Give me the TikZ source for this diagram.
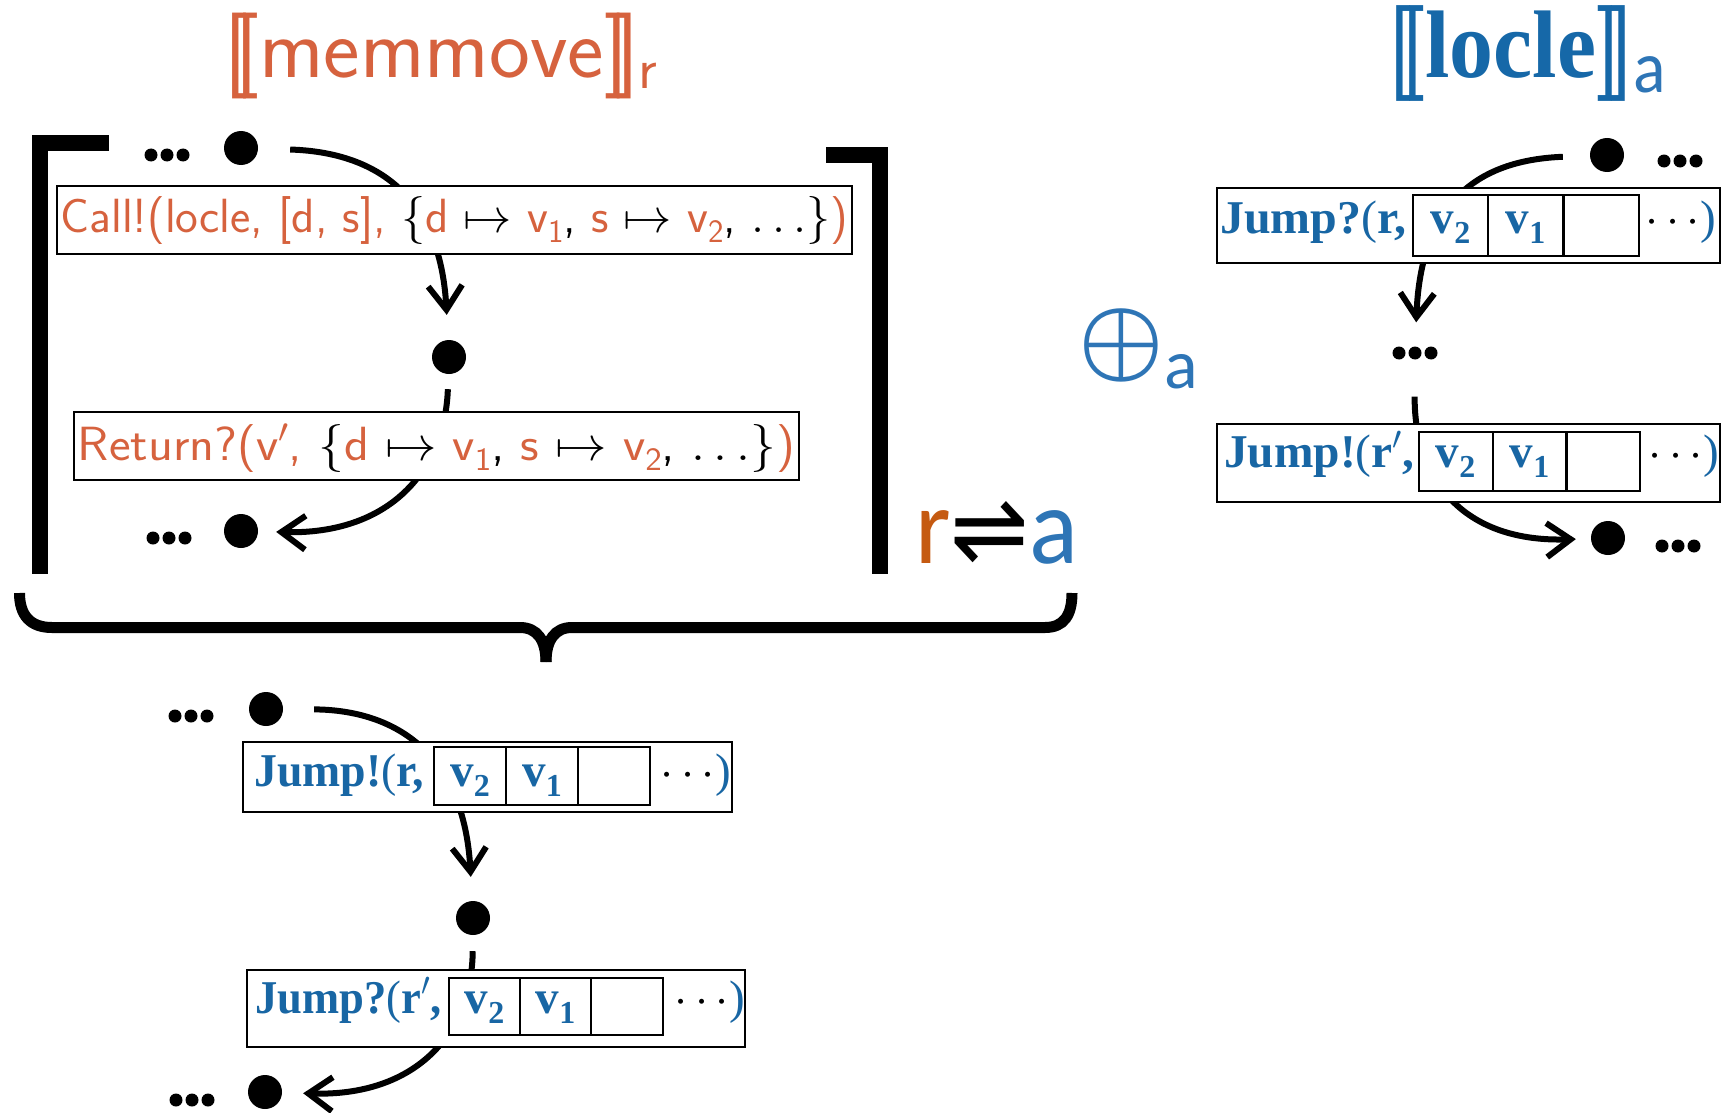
\RequirePackage{fix-cm}
\documentclass[tikz,border=0pt]{standalone}
\usepackage{fontspec}
\setmainfont{Liberation Serif}
\newfontfamily\dv{DejaVu Sans}
\newfontfamily\carl{Carlito}
\usetikzlibrary{arrows.meta}
\pgfdeclarelayer{bg}\pgfsetlayers{bg,main}
\definecolor{orT}{RGB}{214,98,62}
\definecolor{blJ}{RGB}{24,102,164}
\definecolor{blL}{RGB}{22,104,168}
\definecolor{blA}{RGB}{46,117,182}
\definecolor{rO}{RGB}{197,90,17}
\newcommand\sbs[1]{\raisebox{-.22em}{\scalebox{0.68}{#1}}}
\newcommand\oc[1]{\textcolor{orT}{#1}}
\newcommand\jdots{\hspace{4pt}{\color{black}$\cdots$}\textcolor{blJ}{\mdseries)}}
\tikzset{
  dot/.style={circle, fill=black, minimum size=34pt, inner sep=0pt},
  ell/.style={minimum width=46pt, minimum height=13pt, inner sep=0pt,
    path picture={\foreach \k in {-16,0,16} \fill ([xshift=\k pt]path picture bounding box.center) circle (6.5pt);}},
  conn/.style={line width=6pt, -{Straight Barb[length=24pt,width=34pt]}},
  obox/.style={draw, line width=2pt, fill=white, inner sep=0pt, font=\sffamily\fontsize{48}{50}\selectfont},
  jbox/.style={draw, line width=2pt, fill=white, inner sep=0pt},
  cell/.style={draw, line width=2pt, inner sep=0pt, anchor=base, text=blJ, font=\bfseries\fontsize{47}{50}\selectfont},
  jt/.style={anchor=base west, inner sep=0pt, text=blJ, font=\bfseries\fontsize{47}{50}\selectfont},
  jd/.style={anchor=base west, inner sep=0pt, font=\fontsize{47}{50}\selectfont},
  brk/.style={line width=16pt, line join=miter, line cap=butt},
  brc/.style={line width=11pt, line cap=butt}
}
\begin{document}
\begin{tikzpicture}[x=1pt,y=1pt]
\useasboundingbox (0,0) rectangle (1721,-1113);
% titles
\node[anchor=base, inner sep=0pt, text=orT, font=\sffamily\fontsize{86}{86}\selectfont] (tmem) at (441,-78)
  {\resizebox{433pt}{\height}{[\kern-.148em[memmove]\kern-.148em]\raisebox{-10pt}{\fontsize{58}{58}\selectfont r}}};
\node[anchor=base, inner sep=0pt, text=blL] (tloc) at (1527,-78)
  {\resizebox{278pt}{\height}{{\sffamily\fontsize{96}{96}\selectfont[\kern-.12em[}{\fontsize{96}{96}\selectfont\bfseries locle}{\sffamily\fontsize{96}{96}\selectfont]\kern-.12em]}\raisebox{-14pt}{\carl\fontsize{74}{74}\selectfont\color{blA}a}}};
% left group (memmove)
\node[ell] (E1) at (167,-155) {};
\node[dot] (D1) at (241,-148) {};
\node[obox, minimum width=795pt, text height=46pt, text depth=22pt] (call) at (454.5,-220)
  {\resizebox{788pt}{\height}{\oc{Call!(locle, [d, s], }$\{$\oc{d} $\mapsto$ \oc{v\sbs{1}}, \oc{s} $\mapsto$ \oc{v\sbs{2}}, $\ldots\}$\oc{)}}};
\node[dot] (D2) at (449,-357) {};
\node[obox, minimum width=725pt, text height=48pt, text depth=20pt] (ret) at (436.5,-446)
  {\resizebox{717pt}{\height}{\oc{Return?(v$'$, }$\{$\oc{d} $\mapsto$ \oc{v\sbs{1}}, \oc{s} $\mapsto$ \oc{v\sbs{2}}, $\ldots\}$\oc{)}}};
\node[ell] (E2) at (169,-538) {};
\node[dot] (D3) at (241,-531) {};
% brackets and brace
\draw[brk] (109,-143) -- (40,-143) -- (40,-574);
\draw[brk] (826,-155) -- (880,-155) -- (880,-574);
\draw[brc] (19.5,-593) .. controls (19.5,-615) and (30,-627.5) .. (52,-627.5) -- (520,-627.5)
  .. controls (537,-627.5) and (546,-640) .. (546,-662);
\draw[brc] (1072,-593) .. controls (1072,-615) and (1064,-627.5) .. (1045,-627.5) -- (572,-627.5)
  .. controls (555,-627.5) and (546,-640) .. (546,-662);
% r <=> a and oplus
\node[anchor=base west, inner sep=0pt] (rla) at (915,-563)
  {\resizebox{163pt}{\height}{\carl\fontsize{109}{109}\selectfont\textcolor{rO}{r}{\dv\fontsize{100}{100}\selectfont ⇌}\textcolor{blA}{a}}};
\node[anchor=base west, inner sep=0pt, text=blA] (opl) at (1078,-369)
  {{\fontsize{96}{96}\selectfont\boldmath$\oplus$}\raisebox{-19pt}{\carl\fontsize{70}{70}\selectfont a}};
% right group (locle)
\node[dot] (RD1) at (1607,-155) {};
\node[ell] (ER1) at (1680,-161) {};
\node[jbox, minimum width=503pt, minimum height=75pt] (R1) at (1468.5,-225.5) {};
\node[jt] (R1t) at (1220,-233) {\resizebox{186pt}{\height}{Jump?\mdseries(\bfseries r,}};
\node[cell, minimum width=75pt, text height=38pt, text depth=23pt] (R1a) at (1450.5,-233) {v\sbs{2}};
\node[cell, minimum width=75pt, text height=38pt, text depth=23pt] (R1b) at (1525.5,-233) {v\sbs{1}};
\node[cell, minimum width=75pt, text height=38pt, text depth=23pt] (R1c) at (1601,-233) {};
\node[jd] (R1d) at (1641,-233) {\jdots};
\node[ell] (ERm) at (1415,-353) {};
\node[jbox, minimum width=503pt, minimum height=78pt] (R2) at (1468.5,-463) {};
\node[jt] (R2t) at (1224,-467) {\resizebox{190pt}{\height}{Jump!\mdseries(\bfseries r$'$,}};
\node[cell, minimum width=74pt, text height=35pt, text depth=24pt] (R2a) at (1455.5,-467) {v\sbs{2}};
\node[cell, minimum width=74pt, text height=35pt, text depth=24pt] (R2b) at (1529.5,-467) {v\sbs{1}};
\node[cell, minimum width=74pt, text height=35pt, text depth=24pt] (R2c) at (1603,-467) {};
\node[jd] (R2d) at (1644,-467) {\jdots};
\node[dot] (RD3) at (1608,-538) {};
\node[ell] (ER3) at (1678,-546) {};
% bottom group
\node[ell] (E3) at (191,-716) {};
\node[dot] (BD1) at (266,-709) {};
\node[jbox, minimum width=489pt, minimum height=70pt] (B1) at (487.5,-777) {};
\node[jt] (B1t) at (254,-786) {\resizebox{170pt}{\height}{Jump!\mdseries(\bfseries r,}};
\node[cell, minimum width=72pt, text height=39pt, text depth=19pt] (B1a) at (470,-786) {v\sbs{2}};
\node[cell, minimum width=72pt, text height=39pt, text depth=19pt] (B1b) at (542,-786) {v\sbs{1}};
\node[cell, minimum width=72pt, text height=39pt, text depth=19pt] (B1c) at (614,-786) {};
\node[jd] (B1d) at (656,-786) {\jdots};
\node[dot] (BD2) at (473,-918) {};
\node[jbox, minimum width=498pt, minimum height=77pt] (B2) at (496,-1008) {};
\node[jt] (B2t) at (255,-1013) {\resizebox{186pt}{\height}{Jump?\mdseries(\bfseries r$'$,}};
\node[cell, minimum width=71.5pt, text height=35pt, text depth=22pt] (B2a) at (484.5,-1013) {v\sbs{2}};
\node[cell, minimum width=71.5pt, text height=35pt, text depth=22pt] (B2b) at (555.5,-1013) {v\sbs{1}};
\node[cell, minimum width=71.5pt, text height=35pt, text depth=22pt] (B2c) at (627,-1013) {};
\node[jd] (B2d) at (670,-1013) {\jdots};
\node[ell] (E4) at (192,-1100) {};
\node[dot] (BD3) at (265,-1092) {};
% connectors
\begin{pgfonlayer}{bg}
\draw[conn, shorten <=32pt, shorten >=25pt] (D1) .. controls (370,-152) and (440,-190) .. (D2);
\draw[conn, shorten <=15pt, shorten >=18pt] (D2) .. controls (445,-470) and (390,-535) .. (D3);
\draw[conn, shorten <=31pt, shorten >=24pt] (BD1) .. controls (394,-710) and (464,-752) .. (BD2);
\draw[conn, shorten <=16pt, shorten >=21pt] (BD2) .. controls (472,-1032) and (417,-1097) .. (BD3);
\draw[conn, shorten <=27pt, shorten >=24pt] (RD1) .. controls (1483,-160) and (1421,-197) .. (ERm);
\draw[conn, shorten <=37pt, shorten >=15pt] (ERm) .. controls (1414,-478) and (1462,-543) .. (RD3);
\end{pgfonlayer}
\end{tikzpicture}
\end{document}
